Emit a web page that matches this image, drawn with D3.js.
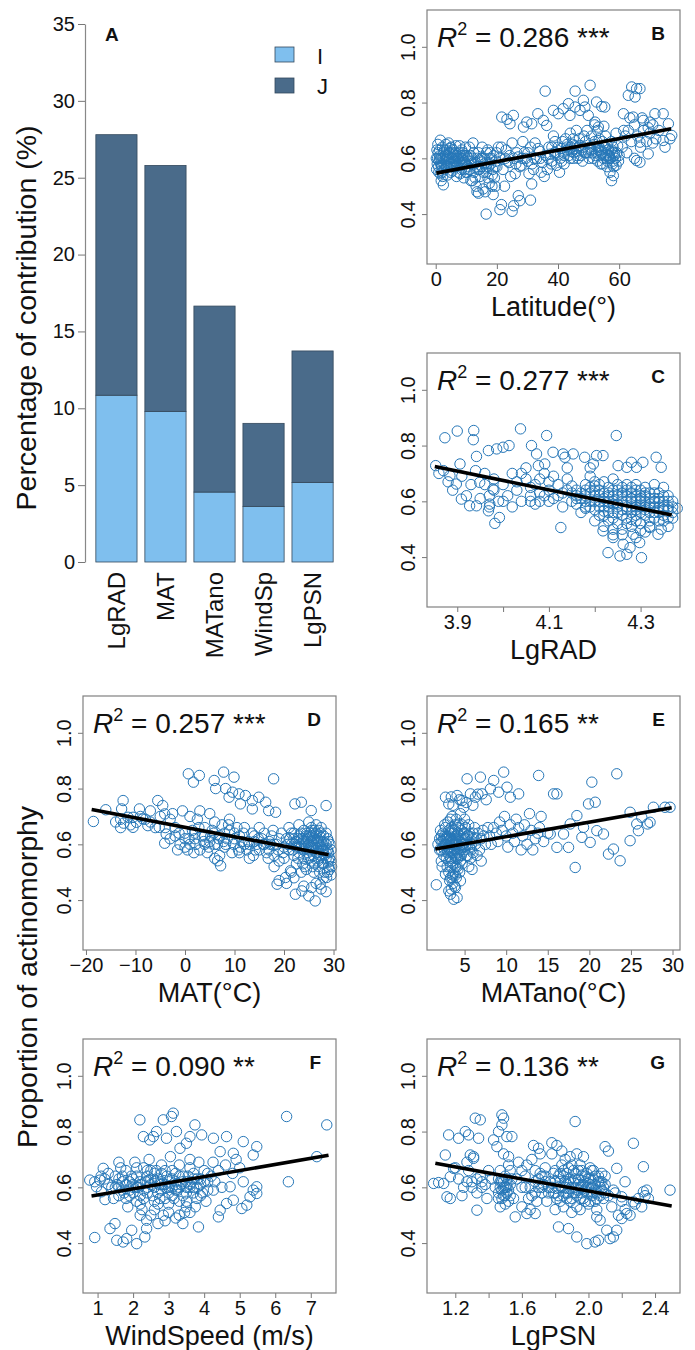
<!DOCTYPE html>
<html>
<head>
<meta charset="utf-8">
<script src="https://cdn.jsdelivr.net/npm/d3@7"></script>
<style>
  body { margin: 0; background: #fff; }
  svg text { font-family: "Liberation Sans", Arial, sans-serif; fill: #111; }
</style>
</head>
<body>
<svg id="fig" width="695" height="1350"></svg>
<script>
// ---------- panel A : contribution of drivers
const drivers = ['LgRAD', 'MAT', 'MATano', 'WindSp', 'LgPSN']
const partI = [10.85, 9.8, 4.55, 3.62, 5.18]
const partJ = [16.95, 16.0, 12.1, 5.4, 8.55]
const contribTicks = [0, 5, 10, 15, 20, 25, 30, 35]

// ---------- panels B-G : [x, proportion of actinomorphy]
const latitude = [
  [0.5,.58],[0.8,.62],[1,.55],[1.2,.6],[1.5,.665],[1.8,.52],[2,.575],[2.2,.64],[0.6,.6],[2.5,.505],[3,.59],[3.2,.61],[2.8,.56],[1.5,.545],[0.4,.63],[1.1,.59],
  [3.5,.63],[4,.57],[4.5,.6],[5,.64],[5.5,.555],[6,.59],[6.5,.62],[7,.575],[7.5,.605],[8,.545],[8.5,.63],[9,.585],[9.5,.56],[10,.61],[4.2,.655],[5.2,.58],
  [6.8,.535],[7.8,.645],[9.2,.53],[3.8,.54],[5.8,.615],[8.8,.6],[4.8,.615],[6.2,.57],[7.2,.6],[3.6,.595],[5.6,.63],[2.4,.6],[1.6,.58],[8.2,.575],
  [0.3,.56],[0.9,.57],[1.3,.63],[1.7,.6],[2.1,.55],[2.6,.62],[3.4,.57],[3.9,.61],[4.4,.58],[4.9,.55],[5.4,.62],[5.9,.57],[6.4,.59],[6.9,.61],
  [7.4,.55],[7.9,.59],[8.4,.56],[8.9,.62],[9.4,.59],[9.9,.55],[0.7,.65],[2.3,.535],[3.3,.65],[4.6,.635],[6.6,.645],[8.6,.61],[9.7,.64],
  [1.4,.61],[2.7,.58],[3.7,.6],[4.3,.62],[5.3,.6],[6.3,.61],[7.3,.58],[8.3,.6],[9.3,.61],[0.2,.6],[1.9,.57],[4.7,.57],[6.7,.57],[8.7,.58],
  [2.9,.63],[5.7,.6],[7.7,.62],[9.8,.58],
  [10.5,.57],[11,.64],[11.5,.52],[12,.6],[12.5,.55],[13,.585],[13.5,.48],[14,.62],[14.5,.535],[15,.57],[15.5,.49],[16,.6],[16.5,.55],[17,.63],[17.5,.51],
  [18,.58],[18.5,.54],[19,.61],[19.5,.5],[20,.57],[12.2,.655],[13.2,.5],[14.8,.6],[16.2,.48],[17.8,.62],[19.2,.53],[11.8,.58],[20.5,.64],[18.8,.47],[15.2,.64],
  [12,.52],[14,.475],[10.8,.6],[16.8,.58],[13.8,.56],[18.2,.6],
  [10.2,.55],[11.2,.56],[12.7,.58],[13.6,.6],[14.3,.56],[15.7,.55],[16.6,.62],[17.3,.57],[18.4,.5],[19.7,.59],[11.4,.61],[12.9,.53],[15.4,.6],
  [17.1,.53],[19.9,.62],[11.6,.59],[13.4,.57],[15.8,.58],[17.6,.6],[19.4,.57],[12.4,.62],[14.6,.59],[16.4,.57],[18.6,.56],
  [21,.6],[22,.56],[23,.63],[24,.585],[25,.655],[26,.545],[27,.605],[28,.575],[29,.62],[30,.59],[31,.64],[32,.56],[33,.6],[34,.625],[35,.585],
  [22.5,.5],[24.5,.535],[26.5,.62],[28.5,.66],[30.5,.545],[32.5,.655],[34.5,.55],[21.5,.64],[23.5,.59],[25.5,.6],[27.5,.57],[29.5,.6],[31.5,.58],[33.5,.635],
  [35.5,.535],[31.4,.508],[22.8,.6],[24.2,.61],[26.2,.58],[28.2,.6],[30.2,.62],[32.2,.6],[34.2,.6],
  [36,.61],[37,.64],[38,.59],[39,.66],[40,.615],[41,.635],[42,.58],[43,.65],[44,.6],[45,.67],[46,.625],[47,.645],[48,.59],[49,.66],[50,.62],
  [36.5,.56],[38.5,.68],[40.5,.55],[42.5,.67],[44.5,.625],[46.5,.6],[48.5,.68],[37.5,.615],[39.5,.575],[41.5,.66],[43.5,.61],[45.5,.645],[47.5,.61],
  [49.5,.7],[46,.7],[44,.69],[42,.61],[38,.64],[40,.64],[43,.63],[45,.6],[47,.67],
  [36.8,.6],[37.8,.58],[39.2,.62],[40.8,.6],[41.2,.59],[42.8,.64],[43.8,.63],[44.8,.65],[45.2,.62],[46.8,.64],[47.8,.63],[48.2,.64],[49.2,.62],
  [38.8,.62],[41.8,.62],[44.2,.64],[46.2,.61],[48.8,.62],
  [50.5,.64],[51,.68],[51.5,.6],[52,.66],[52.5,.62],[53,.7],[53.5,.64],[54,.58],[54.5,.66],[55,.61],[55.5,.68],[56,.57],[56.5,.63],[57,.6],[57.5,.66],
  [58,.59],[58.5,.62],[59,.575],[59.5,.645],[60,.61],[52,.72],[55,.715],[57,.55],[59,.69],[53,.59],[56,.65],[54,.63],[58,.64],
  [50.2,.6],[51.2,.62],[52.8,.64],[53.8,.61],[54.8,.6],[55.8,.62],[56.8,.61],[57.8,.62],[58.8,.6],[59.8,.59],[53.5,.67],[55.5,.64],[57.5,.63],
  [51.8,.65],[56.2,.59],[58.2,.57],[50.8,.63],[52.2,.61],[53.2,.63],[54.2,.62],[55.2,.64],[56.4,.61],[57.2,.6],[58.4,.61],[59.2,.62],[55.8,.6],
  [57.8,.58],[54.6,.58],
  [61,.64],[62,.68],[63,.7],[64,.66],[65,.72],[66,.68],[67,.64],[68,.7],[69,.66],[70,.69],[71,.72],[72,.67],[73,.7],[62.5,.62],[67.5,.745],[69.5,.71],
  [63.5,.745],[61.5,.7],[65,.6],[71,.655],
  // outliers
  [16.5,.4],[21,.416],[21.5,.434],[25,.41],[25.5,.43],[27,.466],[27.5,.448],[31,.45],
  [21.6,.748],[23.3,.74],[25.4,.754],[24.3,.724],[28.7,.712],[29.8,.73],[31.4,.724],[33.4,.76],[35.2,.736],[36.3,.718],[35.8,.841],
  [38.5,.772],[40.1,.76],[41.7,.778],[43.4,.796],[43.9,.754],[45.6,.784],[47.2,.772],[48.3,.808],[48.8,.784],[49.9,.754],[45.6,.841],[50.5,.862],
  [52.6,.802],[54.3,.786],[55.3,.784],[52.1,.73],[53.2,.712],[57.5,.52],[58.1,.538],
  [63,.826],[64.1,.856],[65.7,.85],[65.2,.82],[66.8,.85],[61.4,.76],[64.6,.748],[67.9,.736],[70.1,.73],[71.7,.76],[66.8,.658],[69.5,.616],[65.7,.592],
  [66.8,.586],[74.4,.76],[76.1,.724],[77.2,.682],[74.4,.664],[76.6,.67],[75,.64]
]

const lgRad = [
  [3.853,.728],[3.873,.828],[3.9,.852],[3.936,.854],[3.935,.821],[3.942,.761],[3.906,.734],[3.884,.692],[3.898,.662],[3.909,.608],[3.927,.584],
  [3.942,.584],[3.949,.668],[3.968,.782],[3.986,.788],[4.0,.794],[4.013,.8],[3.968,.566],[3.982,.521],[3.992,.542],[3.971,.59],[3.978,.644],
  [4.038,.86],[4.062,.8],[4.073,.77],[4.095,.836],[4.077,.728],[4.091,.734],[4.109,.776],[4.131,.77],[4.135,.758],[4.153,.77],[4.178,.758],
  [4.204,.764],[4.218,.764],[4.197,.734],[4.126,.506],[4.247,.836],
  [4.251,.728],[4.27,.722],[4.28,.74],[4.291,.722],[4.305,.74],[4.334,.758],[4.345,.722],
  [4.229,.416],[4.255,.404],[4.27,.41],[4.277,.434],[4.298,.452],[4.302,.398],[4.218,.494],[4.24,.47],[4.262,.446],[4.284,.482],[4.32,.506],
  [4.338,.482],[4.345,.5],
  [4.0,.66],[4.01,.62],[4.02,.7],[4.03,.64],[4.04,.6],[4.05,.68],[4.06,.62],[4.07,.66],[4.08,.6],[4.09,.7],[4.1,.64],[4.02,.58],[4.05,.72],
  [4.07,.59],[4.03,.67],[4.09,.62],[4.0,.6],[4.04,.7],[4.08,.68],[4.06,.65],[4.11,.61],[4.12,.66],[4.13,.63],[4.14,.68],[4.15,.6],[4.11,.69],[4.13,.58],
  [3.95,.61],[3.96,.66],[3.97,.62],[3.98,.68],[3.99,.6],[3.96,.7],[3.98,.64],[3.93,.66],[3.92,.62],[3.91,.69],[3.88,.67],[3.87,.71],[3.86,.7],
  [3.89,.64],[3.94,.71],[3.97,.58],
  [4.16,.64],[4.17,.61],[4.18,.66],[4.18,.58],[4.19,.63],[4.2,.6],[4.2,.67],[4.21,.55],[4.21,.64],[4.22,.61],[4.22,.58],[4.23,.65],[4.23,.53],
  [4.24,.62],[4.24,.59],[4.25,.56],[4.25,.66],[4.26,.6],[4.26,.63],[4.27,.57],[4.27,.54],[4.28,.61],[4.28,.65],[4.29,.58],[4.29,.55],[4.3,.62],
  [4.3,.6],[4.31,.57],[4.31,.65],[4.32,.59],[4.32,.53],[4.33,.61],[4.33,.56],[4.34,.63],[4.34,.58],[4.35,.55],[4.35,.6],[4.36,.57],[4.36,.62],
  [4.37,.58],[4.38,.575],[4.37,.54],[4.17,.56],[4.19,.69],[4.22,.67],[4.24,.68],[4.26,.5],[4.28,.51],[4.3,.52],[4.33,.66],[4.35,.65],[4.15,.655],
  [4.16,.59],[4.2,.53],[4.23,.6],[4.25,.62],[4.27,.64],[4.29,.62],[4.31,.6],[4.33,.58],[4.18,.62],[4.21,.6],[4.24,.56],[4.26,.57],[4.28,.58],
  [4.3,.56],[4.32,.63],[4.34,.53],[4.36,.51],[4.31,.49],[4.29,.47],[4.22,.51],[4.19,.72],[4.14,.72],[4.24,.5],
  [4.17,.63],[4.19,.6],[4.2,.64],[4.21,.62],[4.22,.63],[4.23,.58],[4.24,.64],[4.25,.59],[4.26,.65],[4.27,.6],[4.28,.56],[4.29,.6],[4.3,.64],
  [4.31,.62],[4.32,.56],[4.33,.63],[4.34,.6],[4.35,.58],[4.36,.6],[4.37,.6],[4.18,.6],[4.2,.57],[4.22,.55],[4.24,.54],[4.26,.55],[4.28,.63],
  [4.3,.58],[4.32,.61],[4.34,.56],[4.36,.54],[4.25,.64],[4.27,.62],[4.29,.64],[4.31,.55],[4.33,.54],[4.35,.62],[4.21,.66],[4.23,.62],[4.19,.65],
  [4.16,.62],[4.14,.64],[4.12,.62],[4.1,.6],[4.08,.63],[4.06,.6],[4.1,.67],[4.15,.63],[4.25,.52],[4.27,.52],[4.29,.53],[4.32,.51],[4.3,.495],
  [4.26,.48],[4.24,.48],
  [4.18,.64],[4.2,.62],[4.22,.6],[4.24,.6],[4.26,.62],[4.28,.6],[4.3,.61],[4.32,.58],[4.34,.61],[4.36,.58],[4.19,.58],[4.21,.58],[4.23,.56],
  [4.25,.58],[4.27,.58],[4.29,.57],[4.31,.58],[4.33,.6],[4.35,.57],[4.37,.56],[4.23,.63],[4.27,.66],[4.31,.63],[4.2,.655],[4.29,.66],[4.35,.53],
  [4.28,.535],[4.22,.565],[4.18,.575],[4.16,.61]
]

const mat = [
  [-18.5,.682],[-16,.724],[-12.8,.727],[-12.5,.757],[-12.4,.676],[-11.5,.697],[-10.5,.661],[-10.5,.697],[-9.2,.727],[-8.5,.691],[-7.5,.667],
  [-9.8,.679],[-14,.68],[-13,.66],[-11,.67],[-9,.7],[-8,.69],[-7,.68],[-6,.66],[-5,.7],[-7,.72],[-13,.69],
  [-5.5,.757],[-4.5,.739],[-4.1,.709],[-5.2,.661],[-3.8,.637],[-4.1,.604],
  [0.67,.853],[2.9,.847],[1.7,.823],[5.9,.829],[6.2,.8],[7.8,.859],[9.9,.841],[8.2,.8],[9.6,.787],[8.9,.769],[10.9,.781],[12.2,.775],[11.2,.745],
  [13.6,.757],[14.9,.769],[13.6,.727],[16.3,.751],[17.9,.835],[16.9,.721],[18.3,.715],[22.2,.745],[23.5,.751],[25.5,.721],[28.5,.739],
  [22.3,.421],[23.6,.433],[25,.415],[26.3,.397],[25.6,.445],[27.3,.457],[28.6,.481],[18.6,.457],[20.3,.481],[21.3,.505],[6.6,.541],[7.2,.523],
  [-3,.62],[-2,.66],[-1,.6],[0,.64],[1,.7],[2,.62],[3,.58],[4,.66],[5,.61],[6,.68],[7,.63],[8,.59],[9,.65],[10,.62],[11,.57],[12,.66],[13,.6],
  [14,.63],[15,.58],[16,.64],[17,.61],[18,.56],[19,.62],[20,.59],[-2.5,.71],[-0.5,.72],[0.5,.58],[1.5,.65],[2.5,.69],[3.5,.63],[4.5,.57],[5.5,.65],
  [6.5,.6],[7.5,.67],[8.5,.62],[9.5,.57],[10.5,.66],[11.5,.61],[12.5,.58],[13.5,.64],[14.5,.6],[15.5,.62],[16.5,.57],[17.5,.63],[18.5,.6],[19.5,.64],
  [-4,.66],[-1.5,.58],[1,.6],[3,.72],[5,.71],[7,.56],[9,.69],[11,.63],[13,.55],[15,.66],[17,.58],[19,.54],[-3,.69],[0,.59],[4,.6],[6,.55],
  [0.8,.62],[2.2,.6],[3.8,.61],[5.2,.63],[6.8,.62],[8.2,.6],[9.8,.6],[11.2,.59],[12.8,.61],[14.2,.58],[15.8,.6],[17.2,.6],[18.8,.58],[-1.2,.64],
  [1.8,.57],[4.8,.59],[7.8,.61],[10.8,.58],[13.8,.56],[16.8,.55],[19.8,.57],[2.8,.66],[5.8,.64],[8.8,.67],[11.8,.64],[14.8,.62],[17.8,.65],
  [-2,.63],[0,.62],[2,.64],[4,.63],[6,.6],[8,.64],[10,.64],[12,.6],[14,.61],[16,.6],[18,.6],
  [20.5,.62],[21,.58],[21.5,.64],[22,.56],[22.5,.61],[23,.63],[23.5,.59],[24,.65],[24,.55],[24.5,.61],[25,.63],[25,.58],[25.5,.66],[25.5,.54],
  [26,.6],[26,.62],[26.5,.57],[26.5,.64],[27,.59],[27,.52],[27.5,.61],[27.5,.56],[28,.58],[28,.63],[28.5,.55],[28.5,.6],[29,.57],[29,.52],
  [29.5,.54],[29.5,.49],[21,.66],[22.5,.53],[23,.67],[24.5,.51],[25,.68],[26,.5],[27,.65],[28,.48],[25,.6],[26,.58],[27,.61],[24,.62],[23,.57],
  [22,.64],[26.5,.67],[27.5,.66],[28.5,.64],[29,.61],[26,.56],[25.5,.61],[24.5,.59],[27,.55],[28,.53],[29.5,.58],[20,.55],[21.5,.5],[18,.52],
  [19,.47],[20.5,.46],[22,.48],[23.5,.5],[26.5,.46],[27.5,.44],[28.5,.43],[24,.45],
  [20.8,.6],[21.2,.62],[21.8,.58],[22.2,.6],[22.8,.62],[23.2,.6],[23.8,.61],[24.2,.6],[24.8,.62],[25.2,.64],[25.2,.56],[25.8,.63],[26.2,.65],
  [26.8,.6],[27.2,.63],[27.8,.6],[28.2,.56],[28.8,.58],[29.2,.55],[24.8,.57],[25.8,.59],[26.8,.62],[27.8,.58],[28.8,.62],[26.2,.53],[27.2,.5],
  [28.2,.5],[29.2,.51],[23.8,.53],[22.8,.55],[24.6,.64],[25.6,.65],[26.6,.61],
  [21.5,.6],[22.5,.59],[23.5,.62],[24.5,.63],[25.5,.63],[26.5,.59],[27.5,.59],[28.5,.57],[29.3,.6],[22,.62],[23,.59],[24,.58],[25,.55],[26,.64],
  [27,.57],[28,.61],[29,.54],[25.8,.52],[26.8,.54],[27.8,.53],[28.8,.5],[24.2,.52],[29.6,.52],[23.4,.64],[25.4,.59],[27.4,.64]
]

const matAno = [
  [1.6,.455],[3.3,.421],[3.7,.403],[4.1,.409],[3.1,.433],[3.9,.445],[4.5,.469],[3.5,.481],[2.7,.493],
  [2.7,.769],[3.1,.745],[4.1,.775],[4.7,.757],[5.3,.835],[5.7,.781],[4.9,.733],[6.3,.769],[6.9,.841],[7.1,.781],[8.1,.799],[8.5,.829],[9.1,.787],
  [9.7,.859],[10.1,.805],[10.5,.769],[11.5,.781],[13.9,.847],[15.7,.781],[16.1,.781],[19.9,.745],[20.7,.751],[20.3,.823],[23.3,.853],
  [3.6,.74],[4.4,.76],[5.2,.75],[6,.74],[6.6,.78],[7.6,.76],[3.4,.77],
  [18.3,.517],[23.7,.541],[22.3,.565],[22.9,.583],[24.9,.613],[25.7,.673],[26.3,.697],[27,.673],[27.3,.679],[27.7,.733],[29.1,.733],[29.7,.733],
  [24.9,.715],[25.9,.649],[15.3,.637],[16.1,.589],[16.9,.637],[17.7,.673],[18.5,.703],[19.1,.625],[20.1,.607],[20.9,.649],[21.7,.637],[19.3,.661],
  [17.5,.589],
  [2,.62],[2.2,.58],[2.4,.64],[2.6,.6],[2.8,.55],[3,.62],[3.2,.58],[3.4,.66],[3.6,.53],[3.8,.6],[4,.63],[4.2,.57],[4.4,.61],[4.6,.65],[4.8,.59],
  [5,.62],[5.2,.56],[5.4,.6],[5.6,.64],[5.8,.58],[6,.62],[2.3,.52],[2.7,.66],[3.1,.5],[3.5,.61],[3.9,.55],[4.3,.67],[4.7,.53],[5.1,.66],[5.5,.52],
  [2.1,.65],[2.5,.56],[2.9,.63],[3.3,.55],[3.7,.64],[4.1,.52],[4.5,.58],[4.9,.64],[5.3,.63],[5.7,.55],[3,.68],[3.5,.7],[4,.69],[4.5,.71],[3.2,.47],
  [3.6,.49],[4,.48],[4.4,.5],[3.8,.45],[3.4,.44],[3.4,.59],[3.6,.57],[4.2,.6],[4.6,.56],[4.1,.58],[3.3,.62],[2.6,.67],[6.3,.6],[6.5,.56],[6.6,.64],
  [6.2,.66],[7,.62],[7.5,.6],[7,.54],[6.8,.58],[5.9,.51],
  [2.2,.61],[2.4,.59],[2.6,.63],[2.8,.6],[3,.57],[3.2,.63],[3.4,.61],[3.6,.62],[3.8,.58],[4,.6],[4.2,.64],[4.4,.56],[4.6,.6],[4.8,.62],[5,.58],
  [5.2,.6],[5.4,.63],[5.6,.59],[3.1,.65],[3.5,.65],[3.9,.62],[4.3,.63],[2.5,.62],[2.9,.58],[3.3,.52],[3.7,.5],[4.1,.55],[3.5,.54],[3.9,.52],
  [4.5,.54],[2.7,.6],[3.9,.67],[4.7,.67],[3.3,.69],[5.0,.69],[5.5,.67],[6,.57],[2.2,.54],[2,.58],[1.8,.6],
  [2.4,.61],[2.8,.62],[3.2,.6],[3.6,.6],[4,.61],[4.4,.59],[4.8,.6],[5.2,.62],[2.6,.58],[3,.59],[3.4,.57],[3.8,.56],[4.2,.55],[3.4,.64],[3.8,.65],
  [4.2,.66],[4.6,.62],[5,.64],[2.2,.63],[3.1,.54],[3.6,.46],[3.3,.48],[3.9,.49],[4.2,.51],[2.9,.52],[5.8,.6],[6.4,.62],[7.2,.65],[6.0,.64],[5.4,.56],
  [8,.63],[8.5,.66],[9,.61],[9.5,.65],[10,.63],[10.5,.67],[11,.61],[11.5,.66],[12,.63],[12.5,.6],[13,.65],[13.5,.62],[14,.66],[14.5,.61],[15,.64],
  [8.2,.6],[9.2,.68],[10.2,.59],[11.2,.69],[12.2,.67],[13.2,.58],[14.2,.7],[9.8,.7],[11.8,.58],[13.8,.64],[8.8,.64],[10.8,.64],[7.8,.66],[7.3,.63],
  [12.8,.71]
]

const windSpeed = [
  [0.78,.626],[0.92,.62],[1.07,.626],[0.97,.602],[1.11,.584],[1.21,.556],[1.16,.668],[1.3,.65],[0.92,.42],
  [1.35,.452],[1.49,.47],[1.54,.41],[1.72,.404],[1.82,.416],[1.96,.446],[2.1,.398],[2.33,.422],[2.38,.452],[2.38,.482],
  [2.19,.842],[2.85,.842],[3.08,.854],[3.13,.866],[3.74,.824],[2.29,.782],[2.47,.77],[2.57,.782],[2.66,.8],[2.94,.776],[3.22,.8],[3.32,.74],
  [3.5,.758],[3.6,.782],[3.93,.788],[4.26,.776],[4.63,.782],[5.1,.764],[5.48,.746],[5.38,.716],[4.82,.722],[4.45,.728],[6.32,.854],[7.45,.824],
  [7.17,.71],[6.37,.62],
  [5.38,.59],[5.48,.578],[5.29,.566],[5.48,.602],[5.06,.524],[5.2,.536],[4.73,.602],[4.82,.554],[4.45,.518],[4.4,.494],[4.63,.542],[4.26,.59],
  [3.84,.458],
  [1.4,.6],[1.5,.64],[1.6,.57],[1.7,.62],[1.8,.66],[1.9,.59],[2,.63],[2.1,.55],[2.2,.61],[2.3,.67],[2.4,.58],[2.5,.63],[2.6,.6],[2.7,.54],[2.8,.65],
  [2.9,.61],[3,.58],[3.1,.66],[3.2,.62],[3.3,.55],[3.4,.64],[3.5,.6],[3.6,.67],[3.7,.58],[3.8,.63],[3.9,.61],[4,.66],[4.1,.59],[4.2,.64],
  [1.45,.56],[1.65,.67],[1.85,.53],[2.05,.69],[2.25,.52],[2.45,.7],[2.65,.66],[2.85,.5],[3.05,.71],[3.25,.59],[3.45,.51],[3.65,.62],[3.85,.69],
  [4.05,.55],[4.25,.69],[1.55,.61],[1.75,.58],[1.95,.64],[2.15,.6],[2.35,.62],[2.55,.57],[2.75,.61],[2.95,.64],[3.15,.56],[3.35,.61],[3.55,.64],
  [3.75,.53],[3.95,.58],[2.5,.5],[2.9,.48],[3.2,.49],[3.4,.47],[2.7,.47],[3.6,.51],[2.2,.57],[2.6,.65],[3,.62],[3.3,.68],[3.7,.65],[2.4,.66],
  [2.8,.59],[3.1,.6],[1.6,.69],[2.0,.58],[4.4,.66],[4.6,.68],[4.8,.65],[4.3,.62],[4.9,.7],[5.0,.67],[5.1,.62],[4.5,.6],
  [1.5,.6],[1.7,.59],[1.9,.62],[2.1,.6],[2.3,.59],[2.5,.61],[2.7,.63],[2.9,.6],[3.1,.63],[3.3,.6],[3.5,.62],[3.7,.6],[3.9,.63],[4.1,.62],
  [2,.61],[2.4,.6],[2.8,.62],[3.2,.59],[3.6,.6],[1.8,.56],[2.2,.54],[2.6,.55],[3,.54],[3.4,.57],[3.8,.56],[1.6,.63],[2.4,.64],[2.8,.68],
  [3.2,.65],[3.6,.7],[4,.62],[2.1,.67],[2.9,.56],[3.5,.55],[3.3,.5],[1.3,.61],[1.2,.63],[1.1,.64],
  [1.6,.6],[1.8,.61],[2.2,.62],[2.6,.62],[3,.6],[3.4,.62],[3.8,.6],[2,.6],[2.4,.62],[2.8,.61],[3.2,.61],[3.6,.61],[1.9,.57],[2.3,.56],[2.7,.58],
  [3.1,.57],[3.5,.58],[3.9,.57],[2.1,.64],[2.5,.66],[2.9,.66],[3.3,.64],[3.7,.63],[4.1,.65],[2.6,.52],[3,.51],[3.5,.53],[2.2,.5],[1.7,.64],[2.75,.56]
]

const lgPsn = [
  [1.07,.614],[1.1,.617],[1.13,.614],[1.14,.716],[1.16,.788],[1.15,.566],[1.17,.56],[1.17,.638],[1.19,.668],[1.22,.776],[1.26,.8],[1.28,.788],
  [1.32,.848],[1.35,.842],[1.34,.776],[1.29,.716],[1.31,.704],[1.33,.518],
  [1.48,.86],[1.49,.848],[1.48,.824],[1.46,.8],[1.43,.77],[1.45,.746],[1.51,.782],[1.54,.782],[1.52,.71],[1.56,.494],[1.63,.506],[1.68,.506],
  [1.92,.836],[1.82,.458],[1.88,.452],[1.93,.422],[1.99,.398],[2.04,.404],[2.06,.41],[2.07,.482],[2.05,.494],[2.11,.446],[2.15,.422],[2.13,.416],
  [2.17,.446],[2.2,.488],[2.23,.506],
  [2.1,.746],[2.17,.668],[2.22,.62],[2.27,.758],[2.33,.674],[2.33,.584],[2.32,.53],[2.27,.548],[2.49,.59],[2.2,.566],[2.15,.59],
  [1.22,.63],[1.25,.6],[1.28,.66],[1.3,.62],[1.33,.58],[1.35,.64],[1.38,.61],[1.4,.66],[1.42,.63],[1.24,.57],[1.27,.69],[1.31,.71],[1.36,.6],
  [1.39,.56],[1.2,.67],[1.44,.6],[1.3,.6],[1.33,.63],[1.36,.62],[1.27,.62],
  [1.46,.58],[1.47,.62],[1.48,.56],[1.49,.6],[1.5,.64],[1.51,.58],[1.52,.55],[1.53,.61],[1.47,.66],[1.5,.54],[1.52,.68],[1.49,.72],[1.46,.63],
  [1.54,.63],[1.51,.61],[1.48,.59],[1.5,.57],[1.53,.66],[1.55,.56],[1.47,.53],
  [1.47,.6],[1.49,.57],[1.51,.63],[1.48,.62],[1.5,.6],[1.52,.59],[1.46,.56],[1.53,.57],[1.49,.62],[1.51,.6],
  [1.57,.63],[1.6,.66],[1.62,.6],[1.64,.56],[1.66,.7],[1.68,.62],[1.7,.74],[1.72,.58],[1.74,.67],[1.6,.53],[1.65,.52],[1.69,.55],[1.73,.61],
  [1.71,.72],[1.67,.75],[1.63,.68],[1.58,.69],[1.75,.55],[1.71,.65],[1.68,.58],
  [1.62,.64],[1.65,.6],[1.68,.66],[1.7,.6],[1.72,.64],[1.74,.62],[1.66,.57],[1.6,.6],[1.76,.58],[1.72,.6],[1.74,.64],[1.7,.63],
  [1.77,.62],[1.79,.58],[1.8,.66],[1.82,.6],[1.83,.55],[1.85,.64],[1.86,.7],[1.87,.58],[1.88,.62],[1.9,.56],[1.91,.66],[1.92,.6],[1.93,.53],
  [1.94,.63],[1.95,.68],[1.96,.58],[1.97,.61],[1.98,.55],[1.99,.65],[2,.6],[2.01,.63],[2.02,.57],[2.03,.66],[2.04,.61],[2.05,.58],[2.06,.64],
  [2.07,.6],[2.08,.62],[2.09,.56],[2.1,.61],[1.78,.72],[1.81,.75],[1.84,.73],[1.89,.71],[1.93,.72],[1.97,.71],[1.8,.52],[1.85,.53],[1.9,.51],
  [1.95,.52],[2,.54],[2.05,.52],[1.88,.67],[1.83,.65],[1.96,.64],[2.02,.66],[1.99,.58],[1.92,.63],[1.87,.61],[1.82,.57],[1.94,.59],[2.04,.55],
  [2.08,.65],[1.78,.76],
  [1.78,.6],[1.8,.62],[1.82,.64],[1.84,.6],[1.86,.62],[1.88,.58],[1.9,.6],[1.92,.65],[1.94,.61],[1.96,.6],[1.98,.62],[2,.63],[2.02,.6],[2.04,.64],
  [2.06,.62],[2.08,.59],[2.1,.64],[1.81,.56],[1.85,.57],[1.89,.55],[1.93,.57],[1.97,.56],[2.01,.55],[2.05,.56],[2.09,.6],[1.84,.68],[1.9,.68],
  [1.96,.66],[2.03,.63],[1.76,.6],[1.79,.65],[1.87,.65],[1.91,.62],[1.98,.59],
  [1.8,.58],[1.83,.62],[1.86,.6],[1.89,.63],[1.92,.58],[1.95,.6],[1.98,.64],[2.01,.61],[2.04,.59],[2.07,.62],[1.87,.56],[1.91,.58],[1.95,.56],
  [1.99,.6],[2.03,.58],[2.07,.57],[1.85,.66],[1.94,.66],[2.01,.67],[2.1,.58],
  [2.12,.57],[2.14,.53],[2.16,.58],[2.18,.5],[2.2,.55],[2.22,.52],[2.25,.5],[2.28,.54],[2.3,.56],[2.12,.73],[2.35,.59],[2.34,.57],[2.36,.56]
]

// fitted regression lines (end points)
const fitLatitude = [[0.2, .547], [77, .706]]
const fitLgRad = [[3.851, .725], [4.368, .551]]
const fitMat = [[-18.85, .725], [29, .563]]
const fitMatAno = [[1.48, .583], [29.9, .731]]
const fitWind = [[0.83, .569], [7.5, .715]]
const fitLgPsn = [[1.08, .686], [2.5, .533]]

const r2Values = ['0.286', '0.277', '0.257', '0.165', '0.090', '0.136']
const r2Stars = ['***', '***', '***', '**', '**', '**']
const propTicks = [0.4, 0.6, 0.8, 1.0]

const svg = d3.select('#fig')
const tickGrey = '#777'

// ================= panel A
const xBand = d3.scaleBand()
  .domain(drivers)
  .range([88, 341])
  .paddingInner(0.16)
  .paddingOuter(0.16)

const yBar = d3.scaleLinear()
  .domain([0, 35])
  .range([562, 24])

const barRows = drivers.map((d, i) => ({driver: d, I: partI[i], J: partJ[i]}))
const stacked = d3.stack().keys(['I', 'J'])(barRows)
const barColor = {I: '#7fbfee', J: '#4a6b8a'}

svg.append('g')
  .selectAll('g')
  .data(stacked)
  .join('g')
  .attr('fill', d => barColor[d.key])
  .selectAll('rect')
  .data(d => d)
  .join('rect')
  .attr('x', d => xBand(d.data.driver))
  .attr('y', d => yBar(d[1]))
  .attr('width', xBand.bandwidth())
  .attr('height', d => yBar(d[0]) - yBar(d[1]))
  .attr('stroke', '#34495c')
  .attr('stroke-width', 0.8)

const yBarAxis = svg.append('g')
  .attr('transform', 'translate(85,0)')
  .call(d3.axisLeft(yBar).tickValues(contribTicks).tickSize(7).tickPadding(3).tickSizeOuter(0))
yBarAxis.select('.domain').attr('stroke', '#888').attr('stroke-width', 1.2)
yBarAxis.selectAll('.tick line').attr('stroke', tickGrey)
yBarAxis.selectAll('text').style('font-size', '20px').attr('fill', '#222')

svg.append('g')
  .selectAll('text')
  .data(drivers)
  .join('text')
  .attr('transform', d => `translate(${xBand(d) + xBand.bandwidth() / 2},572) rotate(-90)`)
  .attr('text-anchor', 'end')
  .attr('dy', '0.36em')
  .style('font-size', '24px')
  .text(d => d)

svg.append('text')
  .attr('transform', 'translate(36,318) rotate(-90)')
  .attr('text-anchor', 'middle')
  .style('font-size', '28.5px')
  .text('Percentage of contribution (%)')

svg.append('text')
  .attr('x', 105).attr('y', 41)
  .style('font-size', '19px').style('font-weight', 'bold')
  .text('A')

// legend
const legend = svg.append('g')
;['I', 'J'].forEach((k, i) => {
  legend.append('rect')
    .attr('x', 275).attr('y', 47 + i * 31)
    .attr('width', 19).attr('height', 15)
    .attr('fill', barColor[k]).attr('stroke', '#34495c').attr('stroke-width', 0.8)
  legend.append('text')
    .attr('x', 317).attr('y', 64 + i * 30)
    .style('font-size', '22px')
    .text(k)
})

// ================= panels B-G
const W = 253, H = 254
const yProp = d3.scaleLinear().domain([0.221, 1.132]).range([H, 0])

const panels = [
  {pts: latitude, fit: fitLatitude, left: 427, top: 10, xDomain: [-2.85, 79.9], ticks: [0, 20, 40, 60], labels: [0, 20, 40, 60], title: 'Latitude(°)', letter: 'B', fmt: d3.format('d')},
  {pts: lgRad, fit: fitLgRad, left: 427, top: 353, xDomain: [3.834, 4.386], ticks: [3.9, 4.0, 4.1, 4.2, 4.3], labels: [3.9, 4.1, 4.3], title: 'LgRAD', letter: 'C', fmt: d3.format('.1f')},
  {pts: mat, fit: fitMat, left: 83, top: 696, xDomain: [-20.6, 30.5], ticks: [-20, -10, 0, 10, 20, 30], labels: [-20, -10, 0, 10, 20, 30], title: 'MAT(°C)', letter: 'D', fmt: d3.format('d')},
  {pts: matAno, fit: fitMatAno, left: 427, top: 696, xDomain: [0.48, 30.9], ticks: [5, 10, 15, 20, 25, 30], labels: [5, 10, 15, 20, 25, 30], title: 'MATano(°C)', letter: 'E', fmt: d3.format('d')},
  {pts: windSpeed, fit: fitWind, left: 83, top: 1039, xDomain: [0.59, 7.71], ticks: [1, 2, 3, 4, 5, 6, 7], labels: [1, 2, 3, 4, 5, 6, 7], title: 'WindSpeed (m/s)', letter: 'F', fmt: d3.format('d')},
  {pts: lgPsn, fit: fitLgPsn, left: 427, top: 1039, xDomain: [1.03, 2.55], ticks: [1.2, 1.4, 1.6, 1.8, 2.0, 2.2, 2.4], labels: [1.2, 1.6, 2.0, 2.4], title: 'LgPSN', letter: 'G', fmt: d3.format('.1f')}
]

function drawScatter(p, i) {
  const g = svg.append('g').attr('transform', `translate(${p.left},${p.top})`)
  const x = d3.scaleLinear().domain(p.xDomain).range([0, W])

  const xAxis = d3.axisBottom(x)
    .tickValues(p.ticks)
    .tickSize(5)
    .tickPadding(3)
    .tickFormat(d => p.labels.some(l => Math.abs(l - d) < 1e-9) ? p.fmt(d) : '')
  const gx = g.append('g').attr('transform', `translate(0,${H})`).call(xAxis)
  gx.select('.domain').remove()
  gx.selectAll('.tick line').attr('stroke', tickGrey)
  gx.selectAll('text').style('font-size', '20px').attr('fill', '#222')

  const gy = g.append('g').call(d3.axisLeft(yProp).tickValues(propTicks).tickSize(5).tickFormat(d3.format('.1f')))
  gy.select('.domain').remove()
  gy.selectAll('.tick line').attr('stroke', tickGrey)
  gy.selectAll('text')
    .attr('x', null).attr('dy', null)
    .attr('transform', 'translate(-12,0) rotate(-90)')
    .attr('text-anchor', 'middle')
    .style('font-size', '20px')
    .attr('fill', '#222')

  g.append('g')
    .selectAll('circle')
    .data(p.pts)
    .join('circle')
    .attr('cx', d => x(d[0]))
    .attr('cy', d => yProp(d[1]))
    .attr('r', 5.2)
    .attr('fill', 'none')
    .attr('stroke', '#2677b8')
    .attr('stroke-width', 1)

  g.append('line')
    .attr('x1', x(p.fit[0][0])).attr('y1', yProp(p.fit[0][1]))
    .attr('x2', x(p.fit[1][0])).attr('y2', yProp(p.fit[1][1]))
    .attr('stroke', '#000')
    .attr('stroke-width', 3.6)

  g.append('rect')
    .attr('width', W).attr('height', H)
    .attr('fill', 'none')
    .attr('stroke', '#808080')
    .attr('stroke-width', 1.2)

  const r2 = g.append('text').attr('x', 10).attr('y', 37).style('font-size', '28px')
  r2.append('tspan').style('font-style', 'italic').text('R')
  r2.append('tspan').attr('dy', -12).style('font-size', '18px').text('2')
  r2.append('tspan').attr('dy', 12).text(' = ' + r2Values[i] + ' ' + r2Stars[i])

  g.append('text')
    .attr('x', W - 15).attr('y', 30)
    .attr('text-anchor', 'end')
    .style('font-size', '19px').style('font-weight', 'bold')
    .text(p.letter)

  g.append('text')
    .attr('x', W / 2).attr('y', H + 52)
    .attr('text-anchor', 'middle')
    .style('font-size', '27px')
    .text(p.title)
}

panels.forEach(drawScatter)

svg.append('text')
  .attr('transform', 'translate(37,977) rotate(-90)')
  .attr('text-anchor', 'middle')
  .style('font-size', '28.5px')
  .text('Proportion of actinomorphy')
</script>
</body>
</html>
